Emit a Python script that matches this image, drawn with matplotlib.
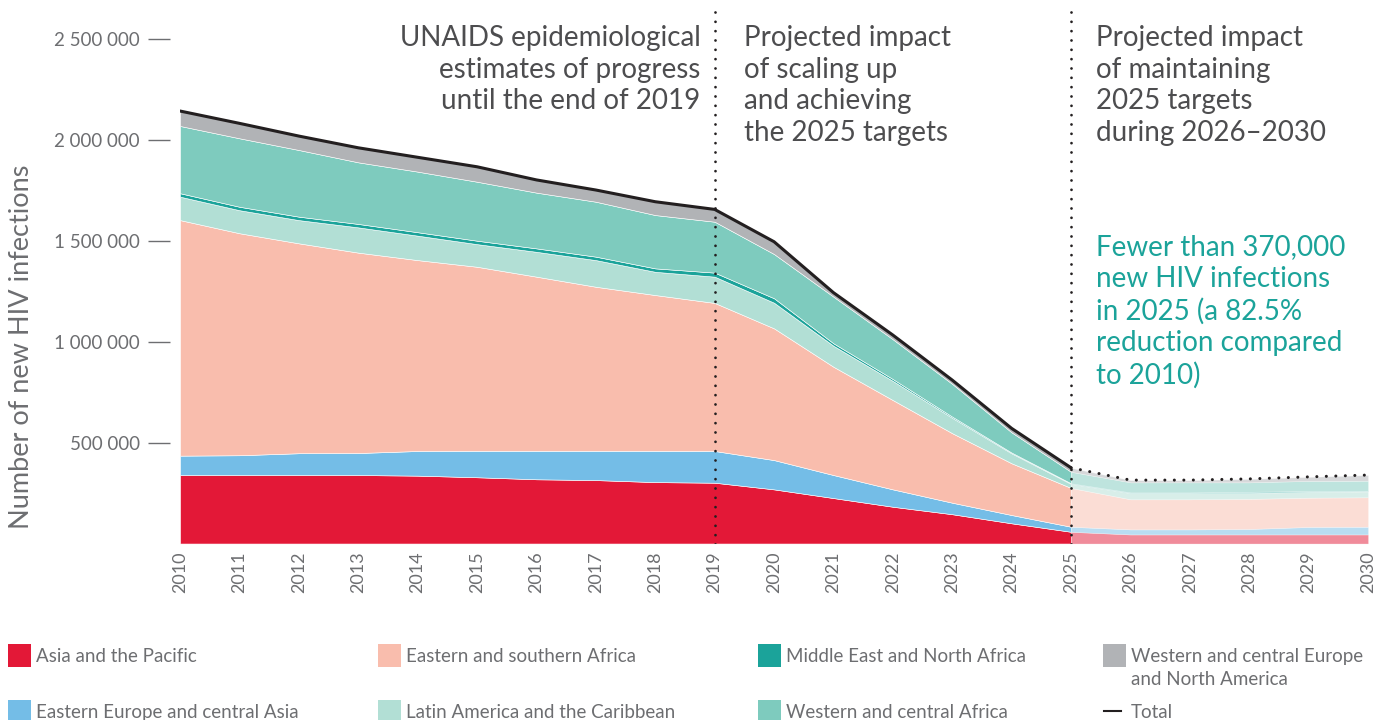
import numpy as np
import matplotlib.pyplot as plt
from matplotlib.patches import Rectangle
from matplotlib.lines import Line2D

plt.rcParams['font.family'] = ['Lato', 'DejaVu Sans']

# Data (new HIV infections, thousands) ------------------------------------
years = np.arange(2010, 2031)

asia_pacific = [339, 339, 339, 339, 336, 328, 318, 314, 304, 301, 268,
                225, 182, 145, 100, 58, 45, 45, 45, 45, 45]
eastern_europe = [96, 98, 108, 109, 122, 131, 141, 145, 155, 157, 145,
                  114, 86, 57, 41, 25, 25, 25, 27, 37, 38]
eastern_southern_africa = [1166, 1099, 1039, 992, 945, 911, 862, 812, 771, 733, 652,
                           536, 442, 344, 256, 192, 149, 149, 149, 145, 146]
latin_america = [116, 114, 115, 125, 121, 112, 123, 132, 115, 130, 127,
                 104, 95, 76, 49, 20, 31, 31, 29, 29, 29]
middle_east = [17, 17, 17, 17, 17, 17, 17, 17, 17, 20, 22,
               12, 9, 6, 4, 3, 3, 3, 6, 4, 3]
western_central_africa = [333, 339, 330, 305, 300, 292, 276, 272, 264, 252, 219,
                          231, 197, 162, 100, 57, 50, 50, 47, 50, 50]
western_europe_na = [74, 74, 69, 72, 71, 74, 63, 58, 66, 61, 61,
                     20, 21, 19, 20, 20, 11, 11, 17, 20, 28]

regions = ["Asia and the Pacific",
           "Eastern Europe and central Asia",
           "Eastern and southern Africa",
           "Latin America and the Caribbean",
           "Middle East and North Africa",
           "Western and central Africa",
           "Western and central Europe\nand North America"]
colors = ["#E31837", "#74BDE7", "#F9BDAD", "#B2DFD5", "#1BA39A", "#7ECBBE", "#B1B3B6"]

series = np.array([asia_pacific, eastern_europe, eastern_southern_africa,
                   latin_america, middle_east, western_central_africa,
                   western_europe_na]) * 1000
total = series.sum(axis=0)

grey = "#6D6E71"
dark = "#231F20"
W, H = 1383, 720

fig = plt.figure(figsize=(13.83, 7.2), dpi=100)
ax = fig.add_axes([0.1302, 0.2451, 0.859, 0.7435])

# estimates up to 2025 solid, 2025-2030 faded
i25 = list(years).index(2025)
ax.stackplot(years[:i25 + 1], series[:, :i25 + 1], colors=colors,
             edgecolor='white', linewidth=0.4)
ax.stackplot(years[i25:], series[:, i25:], colors=colors, alpha=0.5,
             edgecolor='white', linewidth=0.4)

# total line
ax.plot(years[:i25 + 1], total[:i25 + 1], color=dark, lw=2.2,
        solid_capstyle='round', solid_joinstyle='round', zorder=5)
ax.plot(years[i25:], total[i25:], color=dark, lw=2.2, linestyle=(0, (0.01, 3.1)),
        dash_capstyle='round', zorder=5)

# period separators
for yr in (2019, 2025):
    ax.axvline(yr, ymin=0, ymax=0.993, color=dark, lw=2.0,
               linestyle=(0, (0.01, 3.35)), dash_capstyle='round', zorder=6)

ax.set_xlim(2010, 2030)
ax.set_ylim(0, 2650000)

yt = [500000, 1000000, 1500000, 2000000, 2500000]
ax.set_yticks(yt)
ax.set_yticklabels([f"{v:,}".replace(",", " ") for v in yt])
ax.set_xticks(years)
ax.set_xticklabels([str(y) for y in years])

for s in ax.spines.values():
    s.set_color('none')
ax.spines['left'].set_position(('outward', 7))
ax.tick_params(axis='y', length=16, width=1.0, color=grey, pad=6,
               labelsize=13.5, labelcolor=grey)
ax.tick_params(axis='x', length=0, pad=6, labelsize=13, labelcolor=grey,
               labelrotation=90)

fig.text(22 / W, 1 - 347 / H, "Number of new HIV infections", rotation=90,
         ha='center', va='center', fontsize=19.5, color=grey)

# period captions
cap = dict(va='top', fontsize=20, color="#4D4D4F", linespacing=1.26)
ax.text(2018.76, 2565000, "UNAIDS epidemiological\nestimates of progress\nuntil the end of 2019",
        ha='right', **cap)
ax.text(2019.49, 2565000, "Projected impact\nof scaling up\nand achieving\nthe 2025 targets",
        ha='left', **cap)
ax.text(2025.42, 2565000, "Projected impact\nof maintaining\n2025 targets\nduring 2026–2030",
        ha='left', **cap)
ax.text(2025.42, 1530000,
        "Fewer than 370,000\nnew HIV infections\nin 2025 (a 82.5%\nreduction compared\nto 2010)",
        ha='left', va='top', fontsize=20, color="#1BA39A", linespacing=1.26)

# legend, laid out in four columns as in the report
leg_cols = [8, 378, 758, 1103]
leg_rows = [655, 711]
order = [0, 2, 4, 6, 1, 3, 5]
for k, idx in enumerate(order):
    col, row = k % 4, k // 4
    x0, yc = leg_cols[col], leg_rows[row]
    fig.patches.append(Rectangle((x0 / W, 1 - (yc + 11.5) / H), 23 / W, 23 / H,
                                 transform=fig.transFigure, facecolor=colors[idx],
                                 edgecolor='none'))
    fig.text((x0 + 28) / W, 1 - (yc - 7) / H, regions[idx], ha='left', va='top',
             fontsize=13.5, color=grey, linespacing=1.4)
fig.add_artist(Line2D([1104 / W, 1121 / W], [1 - 711 / H, 1 - 711 / H],
                      color=dark, lw=1.5, transform=fig.transFigure))
fig.text(1131 / W, 1 - 704 / H, "Total", ha='left', va='top',
         fontsize=13.5, color=grey)

fig.savefig("out.png", dpi=100)
